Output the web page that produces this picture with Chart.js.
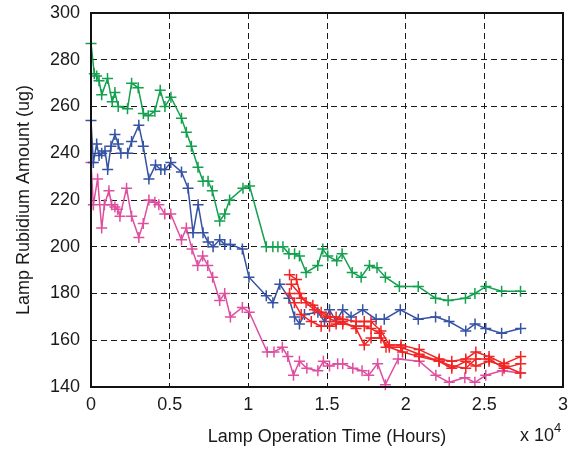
<!DOCTYPE html>
<html>
<head>
<meta charset="utf-8">
<title>Lamp Rubidium Amount</title>
<script src="https://cdn.jsdelivr.net/npm/chart.js@4.4.1/dist/chart.umd.min.js"></script>
<style>
  html, body { margin: 0; padding: 0; background: #fff; }
  #chart { display: block; }
</style>
</head>
<body>
<canvas id="chart" width="570" height="450"></canvas>
<script>
// operation time is in units of 1e4 hours, rubidium in ug
const greenTime = [0, 0.021, 0.036, 0.051, 0.068, 0.105, 0.135, 0.152, 0.173, 0.232, 0.258, 0.3, 0.333, 0.364, 0.406, 0.44, 0.47, 0.508, 0.575, 0.606, 0.638, 0.68, 0.712, 0.744, 0.771, 0.818, 0.85, 0.881, 0.966, 1.008, 1.114, 1.156, 1.188, 1.22, 1.258, 1.294, 1.325, 1.367, 1.441, 1.473, 1.505, 1.562, 1.596, 1.66, 1.717, 1.77, 1.818, 1.871, 1.96, 2.08, 2.19, 2.27, 2.38, 2.44, 2.51, 2.61, 2.73];
const greenRb = [287, 274, 273, 271, 265, 272, 262, 266, 260, 259, 270, 268, 257, 256, 258, 267, 260, 264, 255, 249, 243, 234, 228, 228, 224, 211, 214, 220, 225, 226, 200, 200, 200, 200, 197, 197, 196, 189, 192, 199, 196, 194, 197, 189, 187, 192, 191, 187, 183, 183, 178, 177, 178, 180, 183, 181, 181];

const blueTime = [0, 0.015, 0.036, 0.051, 0.068, 0.089, 0.106, 0.127, 0.152, 0.173, 0.19, 0.233, 0.258, 0.304, 0.332, 0.368, 0.41, 0.444, 0.469, 0.507, 0.575, 0.617, 0.649, 0.681, 0.712, 0.744, 0.776, 0.818, 0.85, 0.886, 0.962, 1.004, 1.114, 1.156, 1.2, 1.258, 1.294, 1.325, 1.357, 1.442, 1.484, 1.516, 1.558, 1.6, 1.653, 1.727, 1.812, 1.864, 1.966, 2.08, 2.19, 2.276, 2.382, 2.441, 2.509, 2.61, 2.731];
const blueRb = [254, 236, 244, 239, 240, 241, 233, 243, 248, 244, 240, 240, 245, 252, 243, 229, 235, 233, 233, 236, 232, 225, 206, 218, 206, 202, 200, 203, 201, 201, 199, 187, 179, 176, 184, 178, 170, 167, 171, 172, 168, 173, 168, 173, 170, 173, 169, 169, 173, 169, 170, 168, 164, 167, 165, 163, 165];

const magentaTime = [0, 0.015, 0.042, 0.068, 0.085, 0.114, 0.131, 0.152, 0.169, 0.184, 0.226, 0.258, 0.304, 0.332, 0.368, 0.406, 0.431, 0.469, 0.507, 0.575, 0.606, 0.642, 0.678, 0.71, 0.742, 0.773, 0.818, 0.85, 0.886, 0.962, 1.006, 1.12, 1.163, 1.216, 1.251, 1.287, 1.325, 1.372, 1.442, 1.477, 1.516, 1.568, 1.6, 1.664, 1.723, 1.765, 1.822, 1.871, 1.952, 2.086, 2.192, 2.277, 2.376, 2.44, 2.509, 2.615, 2.727];
const magentaRb = [236, 218, 229, 208, 218, 224, 218, 217, 216, 213, 225, 213, 204, 210, 220, 219, 218, 214, 214, 203, 208, 199, 192, 196, 192, 187, 177, 180, 170, 174, 172, 155, 155, 157, 153, 145, 151, 148, 147, 151, 149, 150, 150, 148, 147, 145, 150, 141, 152, 151, 145, 142, 144, 142, 145, 147, 146];

const redATime = [1.262, 1.306, 1.336, 1.41, 1.463, 1.52, 1.558, 1.6, 1.685, 1.737, 1.78, 1.843, 1.896, 1.97, 2.086, 2.213, 2.293, 2.382, 2.446, 2.53, 2.625, 2.731];
const redARb = [188, 186, 178, 175, 172, 170, 170, 169, 168, 168, 168, 164, 158, 158, 156, 152, 151, 152, 155, 153, 150, 153];

const redBTime = [1.273, 1.325, 1.367, 1.42, 1.494, 1.558, 1.6, 1.685, 1.737, 1.78, 1.833, 1.875, 1.97, 2.086, 2.213, 2.293, 2.382, 2.446, 2.53, 2.625, 2.731];
const redBRb = [184, 180, 176, 173, 170, 168, 167, 166, 166, 165, 163, 157, 157, 154, 151, 149, 148, 152, 152, 148, 150];

const redCTime = [1.262, 1.293, 1.336, 1.4, 1.463, 1.516, 1.558, 1.6, 1.685, 1.737, 1.78, 1.843, 1.896, 1.98, 2.086, 2.213, 2.293, 2.382, 2.446, 2.53, 2.625, 2.731];
const redCRb = [180, 176, 171, 168, 166, 166, 167, 168, 165, 158, 161, 161, 157, 155, 153, 151, 148, 151, 149, 151, 149, 146];

const xTicks = [0, 0.5, 1, 1.5, 2, 2.5, 3];
const yTicks = [140, 160, 180, 200, 220, 240, 260, 280, 300];

const FONT = '"Liberation Sans", Arial, Helvetica, sans-serif';

function toPoints(xs, ys) {
    return xs.map((x, i) => ({ x: x, y: ys[i] }));
}

function lampSeries(label, xs, ys, color, order) {
    return {
        label: label,
        data: toPoints(xs, ys),
        showLine: true,
        borderColor: color,
        backgroundColor: color,
        borderWidth: 1.5,
        pointStyle: "cross",
        pointRadius: 5.5,
        pointBorderWidth: 1.5,
        pointBorderColor: color,
        clip: 8,
        order: order,
    };
}

// closed box round the plot area plus the x10^4 multiplier
const axesBox = {
    id: "axesBox",
    afterDraw(chart) {
        const { ctx, chartArea: a } = chart;
        ctx.save();
        ctx.strokeStyle = "#111";
        ctx.lineWidth = 2;
        ctx.strokeRect(a.left, a.top, a.right - a.left, a.bottom - a.top);

        ctx.fillStyle = "#1a1a1a";
        ctx.textBaseline = "alphabetic";
        ctx.textAlign = "left";
        ctx.font = "18px " + FONT;
        ctx.fillText("x 10", 520, 441);
        ctx.font = "13px " + FONT;
        ctx.fillText("4", 554, 432);
        ctx.restore();
    },
};

Chart.defaults.font.family = FONT;
Chart.defaults.font.size = 18;
Chart.defaults.color = "#1a1a1a";

const edgeTransparent = (lo, hi) => (c) =>
    (c.tick && (c.tick.value === lo || c.tick.value === hi)) ? "rgba(0,0,0,0)" : "#1a1a1a";

// keep the plot area fixed: no extra room for overhanging tick labels
function fixBox(s, key, size) {
    s[key] = size;
    s.paddingLeft = 0;
    s.paddingRight = 0;
    s.paddingTop = 0;
    s.paddingBottom = 0;
}

new Chart(document.getElementById("chart"), {
    type: "scatter",
    data: {
        datasets: [
            lampSeries("Lamp A", greenTime, greenRb, "#13a04f", 3),
            lampSeries("Lamp B", blueTime, blueRb, "#3552a4", 4),
            lampSeries("Lamp C", magentaTime, magentaRb, "#df4f9f", 5),
            lampSeries("Lamp D1", redATime, redARb, "#f22424", 0),
            lampSeries("Lamp D2", redBTime, redBRb, "#f22424", 1),
            lampSeries("Lamp D3", redCTime, redCRb, "#f22424", 2),
        ],
    },
    options: {
        responsive: false,
        animation: false,
        layout: { padding: { top: 13, right: 5, left: 0, bottom: 0 } },
        plugins: {
            legend: { display: false },
            tooltip: { enabled: false },
        },
        scales: {
            x: {
                type: "linear",
                min: xTicks[0],
                max: xTicks[xTicks.length - 1],
                afterBuildTicks: (s) => { s.ticks = xTicks.map((v) => ({ value: v })); },
                ticks: {
                    padding: 7,
                    maxRotation: 0,
                    autoSkip: false,
                    callback: (v) => String(v),
                },
                grid: { color: edgeTransparent(0, 3), lineWidth: 1, drawTicks: false },
                border: { display: false, dash: [6, 4] },
                title: {
                    display: true,
                    text: "Lamp Operation Time (Hours)",
                    padding: { top: 0, bottom: 2 },
                },
                afterFit: (s) => fixBox(s, "height", 63),
            },
            y: {
                type: "linear",
                min: yTicks[0],
                max: yTicks[yTicks.length - 1],
                afterBuildTicks: (s) => { s.ticks = yTicks.map((v) => ({ value: v })); },
                ticks: { padding: 11, autoSkip: false, callback: (v) => String(v) },
                grid: { color: edgeTransparent(140, 300), lineWidth: 1, drawTicks: false },
                border: { display: false, dash: [6, 4] },
                title: {
                    display: true,
                    text: "Lamp Rubidium Amount (ug)",
                    padding: { top: 13, bottom: 0 },
                },
                afterFit: (s) => fixBox(s, "width", 91),
            },
        },
    },
    plugins: [axesBox],
});
</script>
</body>
</html>
